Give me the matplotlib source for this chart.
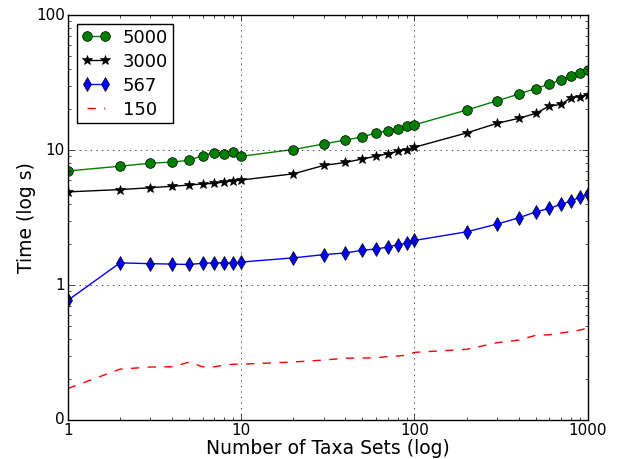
import matplotlib
matplotlib.use('Agg')
import matplotlib.pyplot as plt
from matplotlib.ticker import FuncFormatter, LogLocator

plt.style.use('classic')

# number of taxa sets
taxa = [1, 2, 3, 4, 5, 6, 7, 8, 9, 10,
        20, 30, 40, 50, 60, 70, 80, 90, 100,
        200, 300, 400, 500, 600, 700, 800, 900, 1000]

# running time (s) for each size
t5000 = [7.0, 7.6, 8.0, 8.15, 8.4, 9.1, 9.55, 9.4, 9.7, 9.0,
         10.1, 11.1, 11.9, 12.5, 13.4, 13.9, 14.4, 15.0, 15.4,
         19.8, 23.2, 26.0, 28.6, 30.8, 33.0, 35.2, 37.2, 39.3]
t3000 = [4.9, 5.1, 5.26, 5.4, 5.5, 5.63, 5.66, 5.82, 5.93, 6.0,
         6.67, 7.7, 8.1, 8.6, 9.0, 9.4, 9.8, 10.1, 10.5,
         13.4, 15.8, 17.2, 18.7, 21.2, 21.8, 24.4, 24.9, 25.8]
t567 = [0.77, 1.46, 1.44, 1.43, 1.42, 1.45, 1.46, 1.46, 1.46, 1.48,
        1.59, 1.68, 1.73, 1.81, 1.85, 1.91, 1.99, 2.04, 2.14,
        2.48, 2.83, 3.15, 3.48, 3.70, 3.96, 4.19, 4.48, 4.70]
t150 = [0.171, 0.238, 0.247, 0.248, 0.268, 0.248, 0.248, 0.255, 0.259, 0.259,
        0.269, 0.278, 0.287, 0.288, 0.289, 0.295, 0.298, 0.302, 0.317,
        0.334, 0.374, 0.391, 0.424, 0.428, 0.441, 0.452, 0.464, 0.48]

fig = plt.figure(figsize=(6.22, 4.59), dpi=100, facecolor='white')
ax = fig.add_axes([0.109, 0.085, 0.836, 0.882])

ax.plot(taxa, t5000, 'g-o', markersize=7, label='5000')
ax.plot(taxa, t3000, 'k-*', markersize=7, label='3000')
ax.plot(taxa, t567, 'b-d', markersize=7.5, label='567')
ax.plot(taxa, t150, 'r--', label='150')

ax.set_xscale('log')
ax.set_yscale('log')
ax.set_xlim(1, 1000)
ax.set_ylim(0.1, 100)

fmt = FuncFormatter(lambda v, p: '%d' % v)
ax.xaxis.set_major_locator(LogLocator(base=10))
ax.yaxis.set_major_locator(LogLocator(base=10))
ax.xaxis.set_major_formatter(fmt)
ax.yaxis.set_major_formatter(fmt)
ax.tick_params(labelsize=11, pad=2)

ax.grid(True, which='major')
ax.set_xlabel('Number of Taxa Sets (log)', fontsize=13.5, labelpad=1)
ax.set_ylabel('Time (log s)', fontsize=13.5, labelpad=0)

ax.legend(loc='upper left', numpoints=2, fontsize=13, labelspacing=0.33,
          handlelength=1.6, handletextpad=0.7, borderpad=0.25)

fig.savefig('out.png', dpi=100, facecolor='white')
